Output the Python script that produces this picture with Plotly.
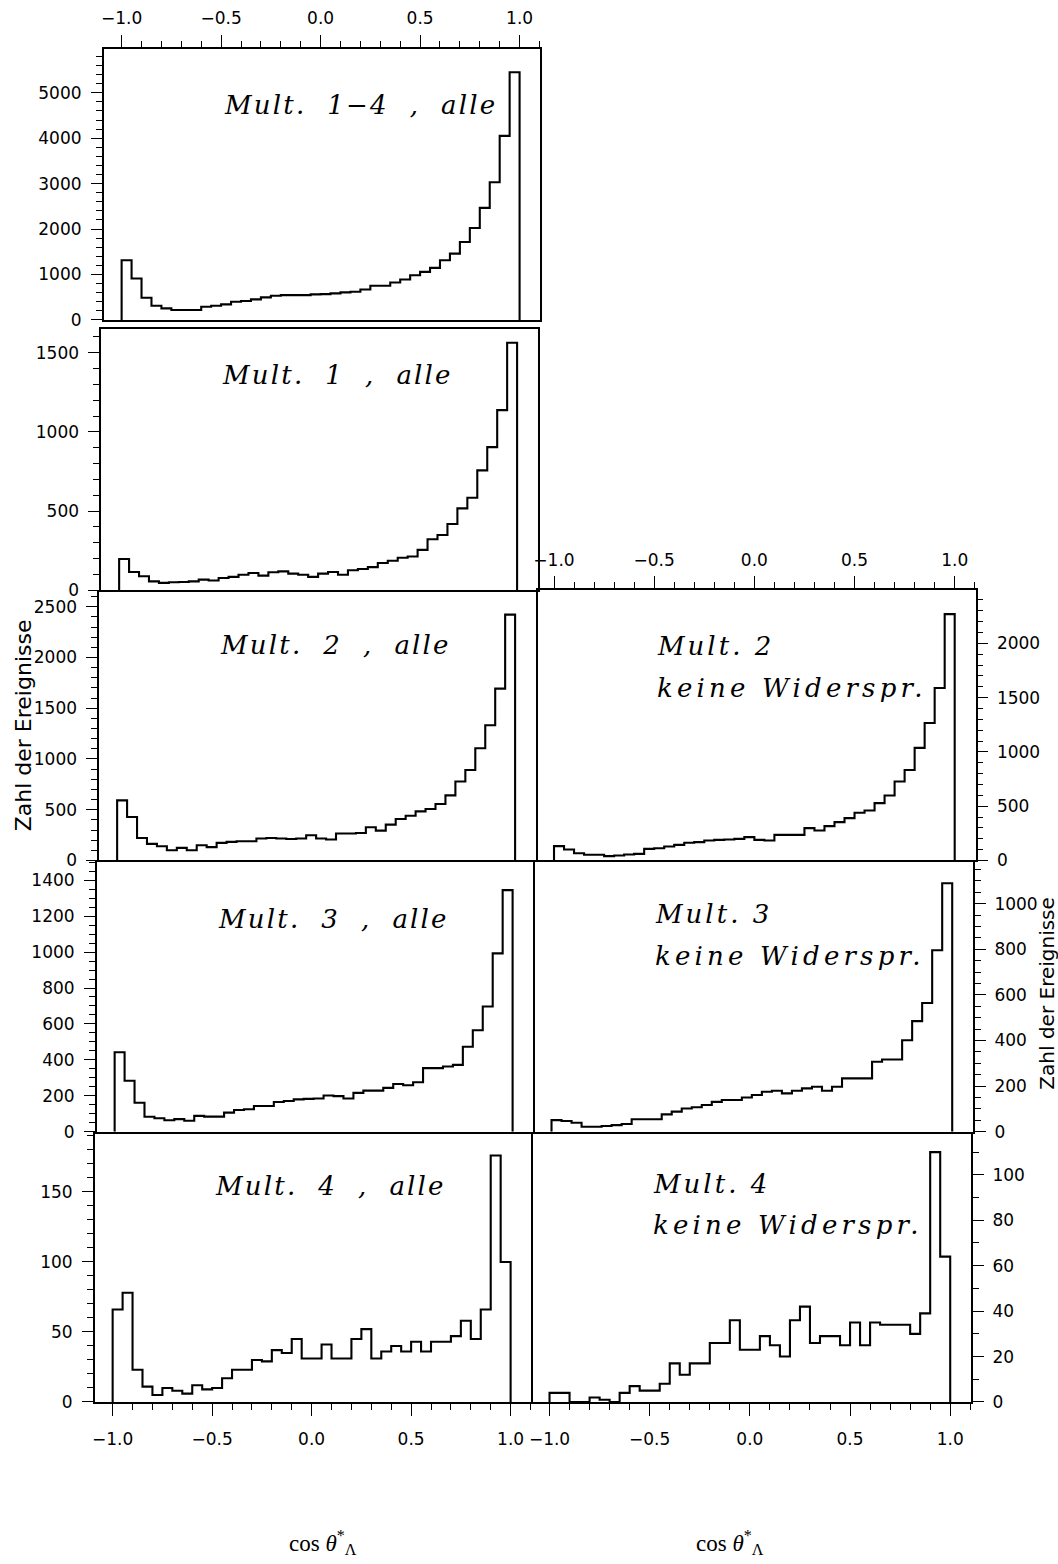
import plotly.graph_objects as go

W, H = 1058, 1564

# ---------------- data ----------------
bin_start = -1.0
bin_width = 0.05
n_bins = 40

# counts per bin (40 bins from -1 to 1)
mult14_alle = [1314, 912, 489, 314, 255, 219, 219, 219, 292, 314,
               343, 401, 416, 452, 496, 533, 547, 547, 547, 562,
               569, 584, 606, 620, 671, 752, 752, 825, 890, 985,
               1058, 1146, 1314, 1460, 1715, 2022, 2467, 3029, 4051, 5453]
mult1_alle = [197, 115, 88, 56, 46, 50, 52, 56, 67, 61,
              77, 84, 98, 109, 92, 113, 119, 105, 98, 84,
              105, 115, 98, 126, 134, 146, 172, 186, 205, 213,
              255, 322, 349, 418, 517, 584, 757, 904, 1138, 1563]
mult2_alle = [592, 428, 222, 163, 140, 101, 124, 101, 150, 131,
              173, 183, 190, 190, 216, 222, 216, 212, 216, 248,
              216, 206, 265, 265, 271, 327, 294, 353, 408, 441,
              484, 507, 556, 641, 778, 892, 1105, 1333, 1693, 2422]
mult3_alle = [442, 284, 161, 83, 75, 64, 70, 61, 88, 84,
              84, 106, 121, 125, 143, 143, 165, 171, 180, 183,
              185, 202, 198, 185, 216, 229, 229, 244, 266, 259,
              275, 354, 354, 363, 372, 473, 565, 697, 993, 1345]
mult4_alle = [66, 78, 23, 11, 5, 10, 8, 6, 12, 9,
              10, 17, 23, 23, 30, 29, 37, 35, 45, 31,
              31, 41, 31, 31, 45, 52, 31, 36, 40, 36,
              43, 36, 43, 43, 47, 58, 45, 66, 176, 100]
mult2_keine = [132, 101, 67, 52, 52, 40, 46, 55, 61, 107,
               113, 129, 144, 163, 169, 184, 190, 193, 199, 215,
               190, 184, 236, 236, 236, 298, 276, 316, 353, 390,
               439, 460, 528, 598, 727, 834, 1037, 1267, 1589, 2270]
mult3_keine = [51, 47, 39, 22, 22, 25, 29, 34, 55, 55,
               55, 76, 88, 102, 107, 117, 131, 139, 139, 150,
               161, 175, 180, 168, 180, 190, 197, 180, 197, 234,
               234, 234, 307, 317, 317, 401, 485, 565, 796, 1090]
mult4_keine = [4, 4, 0, 0, 2, 1, 0, 4, 7, 5,
               5, 8, 17, 12, 17, 17, 26, 26, 36, 23,
               23, 29, 25, 20, 36, 42, 26, 29, 29, 25,
               35, 25, 35, 34, 34, 34, 30, 39, 110, 64]

panel_labels = {
    "m14": ["Mult.\u00a0\u00a01−4\u00a0\u00a0,\u00a0\u00a0alle"],
    "m1": ["Mult.\u00a0\u00a01\u00a0\u00a0,\u00a0\u00a0alle"],
    "m2": ["Mult.\u00a0\u00a02\u00a0\u00a0,\u00a0\u00a0alle"],
    "m3": ["Mult.\u00a0\u00a03\u00a0\u00a0,\u00a0\u00a0alle"],
    "m4": ["Mult.\u00a0\u00a04\u00a0\u00a0,\u00a0\u00a0alle"],
    "k2": ["Mult.\u00a02", "keine\u00a0Widerspr."],
    "k3": ["Mult.\u00a03", "keine\u00a0Widerspr."],
    "k4": ["Mult.\u00a04", "keine\u00a0Widerspr."],
}
y_title = "Zahl der Ereignisse"
x_title = "cos <i>θ</i><sup>*</sup><sub>Λ</sub>"

# ---------------- layout spec (pixels) ----------------
col_px = {"L": (92, 530), "R": (530, 971)}
x_range = [-1.09, 1.105]

# key, values, column, shift, top px, zero px, ymax, major, minor, x side, labelled?, mirror x, text positions, letter spacing
panels = [
    ("m14", mult14_alle, "L", 9, 49, 322, 5970, 1000, 200, "top", True, True, [(220, 106)], [2.2]),
    ("m1", mult1_alle, "L", 6.5, 331, 594, 1651, 500, 100, "bottom", False, True, [(218, 377)], [2.2]),
    ("m2", mult2_alle, "L", 4.5, 594, 866, 2663, 500, 100, "bottom", False, False, [(216, 649)], [2.2]),
    ("m3", mult3_alle, "L", 2, 866, 1139, 1510, 200, 50, "bottom", False, False, [(214, 925)], [2.2]),
    ("m4", mult4_alle, "L", 0, 1139, 1411, 193, 50, 10, "bottom", True, False, [(211, 1194)], [2.2]),
    ("k2", mult2_keine, "R", 4.5, 594, 866, 2490, 500, 100, "top", True, True, [(654, 650), (654, 692)], [3, 4.2]),
    ("k3", mult3_keine, "R", 2, 866, 1139, 1190, 200, 50, "bottom", False, False, [(652, 920), (652, 962)], [3, 4.2]),
    ("k4", mult4_keine, "R", 0, 1139, 1411, 119, 20, 10, "bottom", True, False, [(650, 1192), (650, 1233)], [3, 4.2]),
]

edges = [bin_start + i * bin_width for i in range(n_bins + 1)]

tick_font = dict(family="DejaVu Sans", size=17, color="black")
LW = 1.5
fig = go.Figure()
layout = dict(
    width=W, height=H, margin=dict(l=0, r=0, t=0, b=0),
    paper_bgcolor="white", plot_bgcolor="white", showlegend=False,
)
annotations = []

for i, (key, vals, col, shift, top, bot, ymax, major, minor, xside, xlab, xmirror, tpos, lsp) in enumerate(panels, start=1):
    xs = [edges[0]] + edges[:n_bins] + [edges[n_bins]]
    ys = [0] + list(vals) + [0]
    fig.add_trace(go.Scatter(
        x=xs, y=ys, mode="lines", line=dict(color="black", width=2.1, shape="hv"),
        xaxis=f"x{i}", yaxis=f"y{i}", hoverinfo="skip",
    ))
    x0, x1 = col_px[col]
    xa = dict(
        domain=[(x0 + shift) / W, (x1 + shift) / W], range=x_range,
        anchor=f"y{i}", showgrid=False, zeroline=False, side=xside,
        showline=True, mirror=xmirror, linecolor="black", linewidth=LW,
        tickfont=tick_font, tickformat=".1f", tick0=0, dtick=0.5,
    )
    if xlab:
        xa.update(ticks="outside", ticklen=12, tickwidth=1.4, tickcolor="black",
                  showticklabels=True,
                  ticklabelstandoff=4 if xside == "top" else 9,
                  minor=dict(dtick=0.1, tick0=0, ticks="outside", ticklen=6,
                             tickwidth=1.2, tickcolor="black"))
    else:
        xa.update(ticks="", showticklabels=False)
    ya = dict(
        domain=[1 - bot / H, 1 - top / H], range=[0, ymax],
        anchor=f"x{i}", side="left" if col == "L" else "right",
        showgrid=False, zeroline=False, showline=True, mirror=(col == "L"),
        linecolor="black", linewidth=LW,
        ticks="outside", ticklen=11, tickwidth=1.4, tickcolor="black",
        tick0=0, dtick=major, tickformat="d", tickfont=tick_font,
        ticklabelstandoff=6 if col == "L" else 5,
        minor=dict(dtick=minor, tick0=0, ticks="outside", ticklen=6,
                   tickwidth=1.2, tickcolor="black"),
    )
    layout["xaxis" if i == 1 else f"xaxis{i}"] = xa
    layout["yaxis" if i == 1 else f"yaxis{i}"] = ya

    for line, (px, py), ls in zip(panel_labels[key], tpos, lsp):
        annotations.append(dict(
            xref="paper", yref="paper", x=px / W, y=1 - py / H,
            xanchor="left", yanchor="middle", showarrow=False,
            text=f'<span style="letter-spacing:{ls}px">{line}</span>',
            font=dict(family="DejaVu Serif", size=26, color="black", style="italic"),
        ))

# axis titles
annotations.append(dict(xref="paper", yref="paper", x=20 / W, y=1 - 730 / H,
                        text=y_title, textangle=-90, showarrow=False,
                        xanchor="center", yanchor="middle",
                        font=dict(family="DejaVu Sans", size=22, color="black")))
annotations.append(dict(xref="paper", yref="paper", x=1047 / W, y=1 - 1000 / H,
                        text=y_title, textangle=-90, showarrow=False,
                        xanchor="center", yanchor="middle",
                        font=dict(family="DejaVu Sans", size=20, color="black")))
for px in (285, 693):
    annotations.append(dict(xref="paper", yref="paper", x=px / W, y=1 - 1552 / H,
                            text=x_title, showarrow=False,
                            xanchor="left", yanchor="middle",
                            font=dict(family="Liberation Serif", size=23, color="black")))

layout["annotations"] = annotations
fig.update_layout(**layout)
fig.write_html("out.html")
